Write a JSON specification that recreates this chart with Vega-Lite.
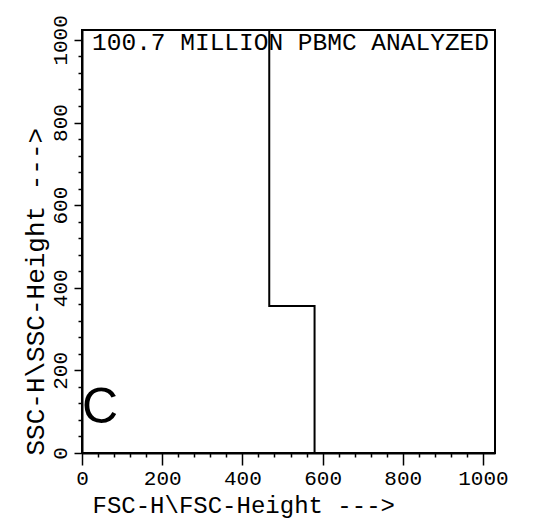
{
  "$schema": "https://vega.github.io/schema/vega-lite/v6.json",
  "width": 413,
  "height": 423,
  "autosize": {"type": "none"},
  "padding": {"left": 82, "top": 30, "right": 38, "bottom": 67},
  "background": "white",
  "config": {
    "view": {"stroke": "black", "strokeWidth": 2},
    "axis": {
      "grid": false,
      "domainColor": "black",
      "domainWidth": 2,
      "tickColor": "black",
      "labelColor": "black",
      "titleColor": "black",
      "labelFont": "Liberation Mono",
      "titleFont": "Liberation Mono",
      "titleFontWeight": "normal",
      "labelFlush": false,
      "labelOverlap": false
    }
  },
  "datasets": {
    "gate": [
      {"step": 1, "fsc": 467, "ssc": 1024},
      {"step": 2, "fsc": 467, "ssc": 356},
      {"step": 3, "fsc": 580, "ssc": 356},
      {"step": 4, "fsc": 580, "ssc": 0}
    ],
    "notes": [
      {"note": "100.7 MILLION PBMC ANALYZED"}
    ],
    "panel": [
      {"note": "C"}
    ]
  },
  "layer": [
    {
      "data": {"name": "gate"},
      "mark": {"type": "line", "color": "black", "strokeWidth": 2},
      "encoding": {
        "x": {
          "field": "fsc", "type": "quantitative",
          "scale": {"domain": [0, 1030], "nice": false, "zero": false},
          "axis": {
            "orient": "bottom",
            "values": [0, 200, 400, 600, 800, 1000],
            "format": "d",
            "tickSize": 12, "tickWidth": 1.5,
            "labelFontSize": 21, "labelPadding": 2,
            "title": "FSC-H\\FSC-Height --->",
            "titleFontSize": 24,
            "titleAnchor": "start", "titleAlign": "left", "titleBaseline": "middle",
            "titleX": 10, "titleY": 52
          }
        },
        "y": {
          "field": "ssc", "type": "quantitative",
          "scale": {"domain": [0, 1024], "nice": false, "zero": false},
          "axis": {
            "orient": "left",
            "values": [0, 200, 400, 600, 800, 1000],
            "format": "d",
            "tickSize": 8, "tickWidth": 1.5,
            "labelFontSize": 21, "labelAngle": 270,
            "labelAlign": "center", "labelBaseline": "middle", "labelPadding": 14,
            "title": "SSC-H\\SSC-Height --->",
            "titleFontSize": 26, "titleAngle": 270,
            "titleAnchor": "start", "titleAlign": "left", "titleBaseline": "middle",
            "titleX": -47, "titleY": 425
          }
        },
        "order": {"field": "step", "type": "quantitative"}
      }
    },
    {
      "data": {"name": "gate"},
      "mark": {"type": "point", "opacity": 0},
      "encoding": {
        "x": {
          "field": "fsc", "type": "quantitative",
          "axis": {
            "orient": "bottom",
            "values": [40, 80, 120, 160, 240, 280, 320, 360, 440, 480, 520, 560, 640, 680, 720, 760, 840, 880, 920, 960],
            "tickSize": 4, "tickWidth": 1.5, "labels": false, "domain": false, "title": null
          }
        },
        "y": {
          "field": "ssc", "type": "quantitative",
          "axis": {
            "orient": "left",
            "values": [40, 80, 120, 160, 240, 280, 320, 360, 440, 480, 520, 560, 640, 680, 720, 760, 840, 880, 920, 960],
            "tickSize": 4, "tickWidth": 1.5, "labels": false, "domain": false, "title": null
          }
        }
      }
    },
    {
      "data": {"name": "notes"},
      "mark": {"type": "text", "align": "left", "baseline": "middle", "font": "Liberation Mono", "fontSize": 24.5, "color": "black"},
      "encoding": {
        "x": {"datum": 25, "type": "quantitative", "axis": null},
        "y": {"datum": 993, "type": "quantitative", "axis": null},
        "text": {"field": "note"}
      }
    },
    {
      "data": {"name": "panel"},
      "mark": {"type": "text", "align": "center", "baseline": "middle", "font": "Liberation Sans Narrow, Liberation Sans", "fontSize": 50, "color": "black"},
      "encoding": {
        "x": {"datum": 45, "type": "quantitative", "axis": null},
        "y": {"datum": 109, "type": "quantitative", "axis": null},
        "text": {"field": "note"}
      }
    }
  ],
  "resolve": {"axis": {"x": "independent", "y": "independent"}}
}
